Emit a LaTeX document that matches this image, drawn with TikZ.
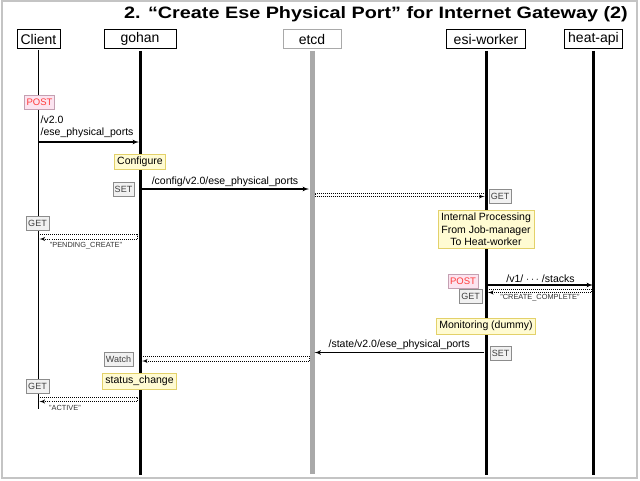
\documentclass[tikz,border=0pt]{standalone}
\usepackage{fontspec}
\setmainfont{Liberation Sans}
\newfontfamily\titlefont[FakeStretch=1.2]{Liberation Sans}
\usepackage{tikz}
\usetikzlibrary{positioning}
\usetikzlibrary{arrows,shapes}
\definecolor{NoteFill}{HTML}{FFFBD2}
\definecolor{NoteLine}{HTML}{E3D16A}
\definecolor{TagFill}{HTML}{F1F1F1}
\definecolor{TagLine}{HTML}{8C8C8C}
\definecolor{PostFill}{HTML}{FCE4F0}
\definecolor{PostLine}{HTML}{C4A0B2}
\definecolor{PostText}{HTML}{FF3B3B}
\definecolor{EtcdGray}{HTML}{A9A9A9}
\definecolor{FrameGray}{HTML}{C4C4C4}

\begin{document}
\begin{tikzpicture}[x=1pt,y=-1pt,
	actor/.style={rectangle, draw, thick, inner sep=1pt, minimum height=19pt, font=\fontsize{14}{14}\selectfont},
	life/.style={line width=3pt},
	msg/.style={->, >=latex', line width=1.2pt},
	ret/.style={->, >=latex', line width=0.9pt, dash pattern=on 1pt off 1pt},
	tag/.style={rectangle, draw=TagLine, fill=TagFill, text=black!75, inner sep=2pt, minimum height=14pt, font=\fontsize{9}{9}\selectfont},
	posttag/.style={rectangle, draw=PostLine, fill=PostFill, text=PostText, inner sep=2pt, minimum height=14pt, font=\fontsize{9.5}{9.5}\selectfont},
	note/.style={rectangle, draw=NoteLine, fill=NoteFill, thick, inner sep=3pt, align=center, font=\fontsize{10.5}{12.5}\selectfont},
	lbl/.style={inner sep=0pt, font=\fontsize{10.5}{12.5}\selectfont},
	small/.style={inner sep=0pt, font=\fontsize{7.4}{7.4}\selectfont, text=black!80}]

	\useasboundingbox (0,0) rectangle (640,480);
	\draw[FrameGray, line width=1.5pt] (2,1) rectangle (637,478);

	% Title
	\node[anchor=east, inner sep=0pt, font=\titlefont\fontsize{16.5}{16.5}\bfseries\selectfont] (Title) at (628,14) {2. “Create Ese Physical Port” for Internet Gateway (2)};

	% Actors
	\node[actor, minimum width=43pt] (Client) at (38.5,39) {Client};
	\node[actor, minimum width=72pt] (Gohan) at (140,39) {gohan};
	\node[actor, draw=EtcdGray, minimum width=58pt] (Etcd) at (312,39) {etcd};
	\node[actor, minimum width=79pt] (Esi) at (486,39) {esi-worker};
	\node[actor, minimum width=58pt] (Heat) at (593.5,39) {heat-api};

	\coordinate (ClientEnd) at (38.5,409);
	\coordinate (GohanEnd) at (140,475);
	\coordinate (EtcdEnd) at (312,474);
	\coordinate (EsiEnd) at (486,475);
	\coordinate (HeatEnd) at (593.5,475);

	% Lifelines
	\draw[line width=1.2pt] (Client.south) ++(0,1) -- (ClientEnd);
	\draw[life] (Gohan.south) ++(0,2) -- (GohanEnd);
	\draw[life, EtcdGray, line width=5pt] (Etcd.south) ++(0,2) -- (EtcdEnd);
	\draw[life] (Esi.south) ++(0,2) -- (EsiEnd);
	\draw[life] (Heat.south) ++(0,2) -- (HeatEnd);

	% POST /v2.0/ese_physical_ports
	\node[posttag] (Post1) at (39.5,102) {POST};
	\node[lbl, anchor=west, align=left] (Path1) at (40.5,127) {/v2.0\\/ese\_physical\_ports};
	\coordinate (m1a) at (38.5,142);
	\coordinate (m1b) at (139,142);
	\draw[msg] (m1a) -- (m1b);

	\node[note] (Configure) at (140,162) {Configure};

	% SET config
	\node[tag] (Set1) at (123.5,189) {SET};
	\coordinate (m2a) at (141,189);
	\coordinate (m2b) at (309,189);
	\draw[msg] (m2a) -- node[lbl, above=2pt] (Path2) {/config/v2.0/ese\_physical\_ports} (m2b);

	% etcd to esi-worker
	\coordinate (r1a) at (484,193);
	\coordinate (r1b) at (315,193);
	\coordinate (r1c) at (315,196.5);
	\coordinate (r1d) at (484.5,196.5);
	\draw[ret] (r1a) -- (r1b) -- (r1c) -- (r1d);
	\node[tag] (Get1) at (500,196) {GET};

	% GET PENDING_CREATE
	\node[tag] (Get2) at (37.5,223) {GET};
	\coordinate (r2a) at (40,234.5);
	\coordinate (r2b) at (137,234.5);
	\coordinate (r2c) at (137,239);
	\coordinate (r2d) at (39.5,239);
	\draw[ret] (r2a) -- (r2b) -- (r2c) -- (r2d);
	\node[small] (Pending) at (86,245.5) {"PENDING\_CREATE"};

	\node[note] (Internal) at (486,229.5) {Internal Processing\\From Job-manager\\To Heat-worker};

	% POST stacks
	\node[posttag] (Post2) at (463,281) {POST};
	\coordinate (m3a) at (488,285);
	\coordinate (m3b) at (593,285);
	\draw[msg] (m3a) -- node[lbl, above=1.5pt] (Path3) {/v1/ $\cdots$ /stacks} (m3b);
	\node[tag] (Get3) at (470.5,296) {GET};
	\coordinate (r3a) at (489,289);
	\coordinate (r3b) at (591,289);
	\coordinate (r3c) at (591,292.5);
	\coordinate (r3d) at (488,292.5);
	\draw[ret] (r3a) -- (r3b) -- (r3c) -- (r3d);
	\node[small] (Complete) at (540,298) {"CREATE\_COMPLETE"};

	\node[note] (Monitor) at (486,326) {Monitoring (dummy)};

	% SET state
	\node[tag] (Set2) at (500.5,353) {SET};
	\coordinate (m4a) at (484,352.5);
	\coordinate (m4b) at (314.5,352.5);
	\draw[msg] (m4a) -- node[lbl, above=2pt] (Path4) {/state/v2.0/ese\_physical\_ports} (m4b);

	% Watch
	\node[tag] (Watch) at (118.5,359) {Watch};
	\coordinate (r4a) at (143,356);
	\coordinate (r4b) at (309.5,356);
	\coordinate (r4c) at (309.5,361);
	\coordinate (r4d) at (142,361);
	\draw[ret] (r4a) -- (r4b) -- (r4c) -- (r4d);

	\node[note] (Status) at (139.5,381) {status\_change};

	% GET ACTIVE
	\node[tag] (Get4) at (37.5,386) {GET};
	\coordinate (r5a) at (40,397);
	\coordinate (r5b) at (137,397);
	\coordinate (r5c) at (137,401.5);
	\coordinate (r5d) at (39.5,401.5);
	\draw[ret] (r5a) -- (r5b) -- (r5c) -- (r5d);
	\node[small] (Active) at (65,408) {"ACTIVE"};
\end{tikzpicture}
\end{document}
